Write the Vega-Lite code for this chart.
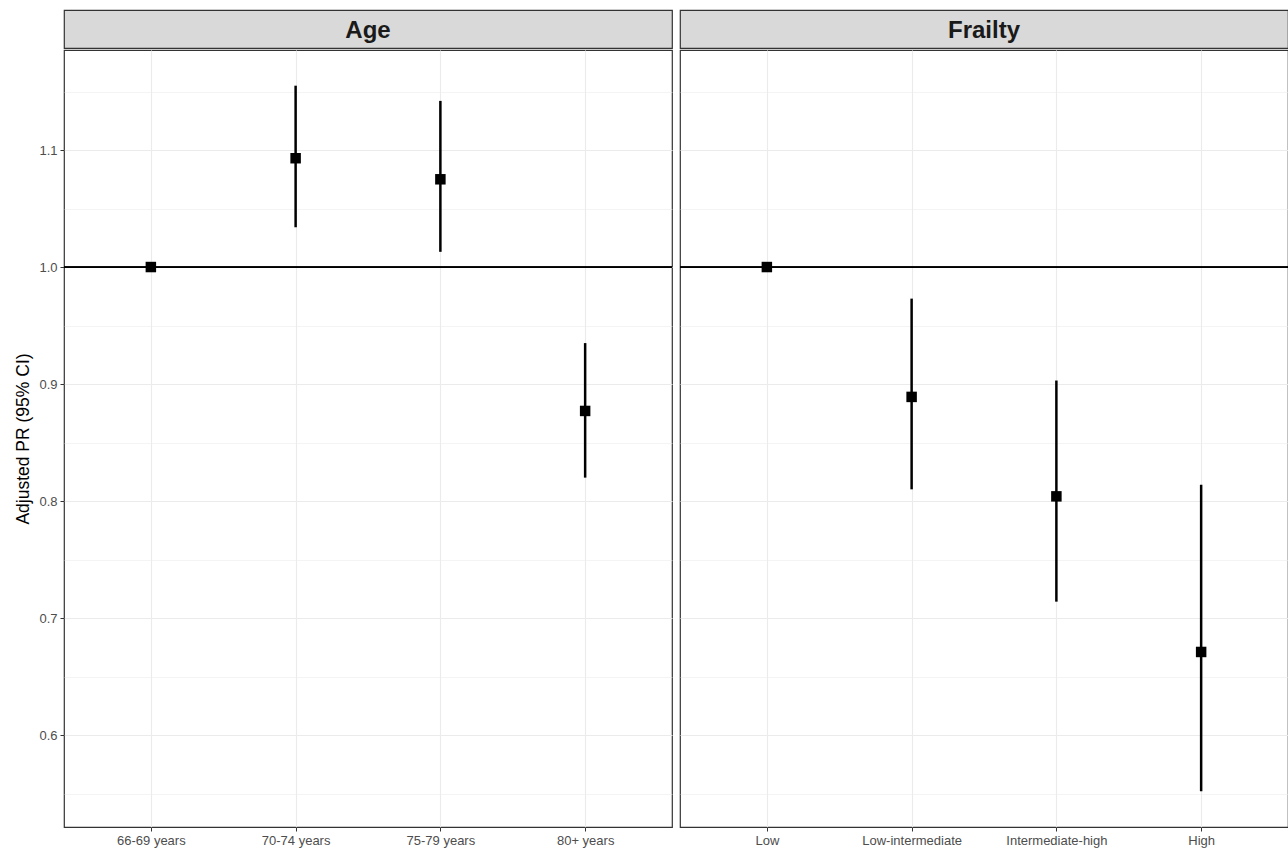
{
  "$schema": "https://vega.github.io/schema/vega-lite/v6.json",
  "background": "white",
  "padding": {"left": 14, "top": 9, "right": 0, "bottom": 0},
  "spacing": 4,
  "datasets": {
    "est": [
      {"panel": "Age", "group": "66-69 years", "pr": 1.0, "lo": 1.0, "hi": 1.0},
      {"panel": "Age", "group": "70-74 years", "pr": 1.093, "lo": 1.034, "hi": 1.155},
      {"panel": "Age", "group": "75-79 years", "pr": 1.075, "lo": 1.013, "hi": 1.142},
      {"panel": "Age", "group": "80+ years", "pr": 0.877, "lo": 0.820, "hi": 0.935},
      {"panel": "Frailty", "group": "Low", "pr": 1.0, "lo": 1.0, "hi": 1.0},
      {"panel": "Frailty", "group": "Low-intermediate", "pr": 0.889, "lo": 0.810, "hi": 0.973},
      {"panel": "Frailty", "group": "Intermediate-high", "pr": 0.804, "lo": 0.714, "hi": 0.903},
      {"panel": "Frailty", "group": "High", "pr": 0.671, "lo": 0.552, "hi": 0.814}
    ],
    "panels": [{"panel": "Age"}, {"panel": "Frailty"}]
  },
  "config": {
    "font": "Liberation Sans",
    "view": {"stroke": "#333333", "strokeWidth": 1.2},
    "axis": {
      "domain": false,
      "labelFont": "Liberation Sans",
      "labelFontSize": 13,
      "labelColor": "#4d4d4d",
      "tickColor": "#333333",
      "tickSize": 4,
      "labelPadding": 3,
      "gridColor": "#ebebeb"
    }
  },
  "hconcat": [
    {
      "spacing": 0,
      "vconcat": [
        {
          "width": 608, "height": 38,
          "data": {"name": "panels"},
          "transform": [{"filter": "datum.panel === 'Age'"}],
          "view": {"fill": "#d9d9d9", "stroke": "#333333", "strokeWidth": 1.2},
          "mark": {"type": "text", "fontWeight": "bold", "fontSize": 24, "color": "#1a1a1a", "baseline": "middle", "dy": 2},
          "encoding": {"text": {"field": "panel"}}
        },
        {
          "width": 608, "height": 777,
          "data": {"name": "est"},
          "transform": [{"filter": "datum.panel === 'Age'"}],
          "layer": [
            {
              "mark": {"type": "rule", "color": "#000000", "strokeWidth": 2.5},
              "encoding": {
                "x": {"field": "group", "type": "nominal", "sort": null,
                      "scale": {"type": "point", "padding": 0.6},
                      "axis": {"title": null, "labelAngle": 0, "grid": true, "gridWidth": 1.1}},
                "y": {"field": "lo", "type": "quantitative",
                      "scale": {"domain": [0.5214, 1.1855], "nice": false, "zero": false},
                      "axis": {
                        "title": "Adjusted PR (95% CI)", "titleFontSize": 17.5, "titleFontWeight": "normal", "titleColor": "#000000",
                        "titlePadding": 6,
                        "values": [0.55, 0.6, 0.65, 0.7, 0.75, 0.8, 0.85, 0.9, 0.95, 1.0, 1.05, 1.1, 1.15],
                        "labelExpr": "abs(datum.value*10 - round(datum.value*10)) < 0.01 ? format(datum.value, '.1f') : ''",
                        "gridWidth": {"condition": {"test": "abs(datum.value*10 - round(datum.value*10)) < 0.01", "value": 1.1}, "value": 0.55},
                        "tickColor": {"condition": {"test": "abs(datum.value*10 - round(datum.value*10)) < 0.01", "value": "#333333"}, "value": "transparent"}
                      }},
                "y2": {"field": "hi"}
              }
            },
            {"mark": {"type": "rule", "color": "#000000", "strokeWidth": 1.2}, "encoding": {"y": {"datum": 1}}},
            {
              "mark": {"type": "point", "shape": "square", "filled": true, "color": "#000000", "size": 110, "opacity": 1},
              "encoding": {
                "x": {"field": "group", "type": "nominal", "sort": null},
                "y": {"field": "pr", "type": "quantitative"}
              }
            }
          ]
        }
      ]
    },
    {
      "spacing": 0,
      "vconcat": [
        {
          "width": 608, "height": 38,
          "data": {"name": "panels"},
          "transform": [{"filter": "datum.panel === 'Frailty'"}],
          "view": {"fill": "#d9d9d9", "stroke": "#333333", "strokeWidth": 1.2},
          "mark": {"type": "text", "fontWeight": "bold", "fontSize": 24, "color": "#1a1a1a", "baseline": "middle", "dy": 2},
          "encoding": {"text": {"field": "panel"}}
        },
        {
          "width": 608, "height": 777,
          "data": {"name": "est"},
          "transform": [{"filter": "datum.panel === 'Frailty'"}],
          "layer": [
            {
              "mark": {"type": "rule", "color": "#000000", "strokeWidth": 2.5},
              "encoding": {
                "x": {"field": "group", "type": "nominal", "sort": null,
                      "scale": {"type": "point", "padding": 0.6},
                      "axis": {"title": null, "labelAngle": 0, "grid": true, "gridWidth": 1.1}},
                "y": {"field": "lo", "type": "quantitative",
                      "scale": {"domain": [0.5214, 1.1855], "nice": false, "zero": false},
                      "axis": {
                        "title": null, "labels": false, "ticks": false, "tickSize": 0, "labelPadding": 0, "minExtent": 0, "maxExtent": 0, "offset": 0,
                        "values": [0.55, 0.6, 0.65, 0.7, 0.75, 0.8, 0.85, 0.9, 0.95, 1.0, 1.05, 1.1, 1.15],
                        "gridWidth": {"condition": {"test": "abs(datum.value*10 - round(datum.value*10)) < 0.01", "value": 1.1}, "value": 0.55}
                      }},
                "y2": {"field": "hi"}
              }
            },
            {"mark": {"type": "rule", "color": "#000000", "strokeWidth": 1.2}, "encoding": {"y": {"datum": 1}}},
            {
              "mark": {"type": "point", "shape": "square", "filled": true, "color": "#000000", "size": 110, "opacity": 1},
              "encoding": {
                "x": {"field": "group", "type": "nominal", "sort": null},
                "y": {"field": "pr", "type": "quantitative"}
              }
            }
          ]
        }
      ]
    }
  ]
}
